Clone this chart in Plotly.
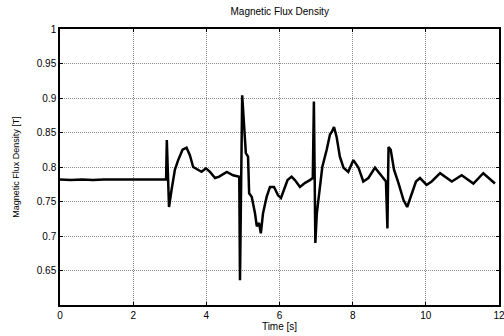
import plotly.graph_objects as go

time_s = [0.0, 0.3, 0.6, 0.9, 1.2, 1.5, 1.8, 2.1, 2.4, 2.7, 2.9, 2.92, 2.98, 3.05, 3.14, 3.23, 3.35, 3.46,
          3.55, 3.64, 3.77, 3.87, 3.99, 4.10, 4.24, 4.35, 4.56, 4.73, 4.90, 4.92, 4.98, 5.06, 5.08,
          5.14, 5.17, 5.24, 5.33, 5.38, 5.44, 5.49, 5.55, 5.65, 5.74, 5.85, 5.96, 6.04, 6.13, 6.22,
          6.33, 6.42, 6.56, 6.70, 6.83, 6.91, 6.94, 6.97, 6.98, 7.02, 7.08, 7.17, 7.29, 7.38, 7.44,
          7.49, 7.56, 7.65, 7.75, 7.88, 8.02, 8.16, 8.29, 8.43, 8.61, 8.79, 8.91, 8.95, 8.98, 9.04,
          9.13, 9.25, 9.39, 9.49, 9.61, 9.73, 9.84, 10.02, 10.16, 10.39, 10.71, 10.98, 11.30, 11.57,
          11.89]
flux_T = [0.782, 0.781, 0.782, 0.781, 0.782, 0.782, 0.781, 0.782, 0.781, 0.782, 0.782, 0.839, 0.742, 0.767,
          0.796, 0.810, 0.825, 0.828, 0.817, 0.800, 0.796, 0.793, 0.798, 0.793, 0.784, 0.786, 0.793,
          0.788, 0.786, 0.636, 0.904, 0.829, 0.820, 0.815, 0.762, 0.757, 0.733, 0.714, 0.719, 0.704,
          0.733, 0.757, 0.771, 0.771, 0.759, 0.755, 0.767, 0.781, 0.786, 0.781, 0.771, 0.777, 0.781,
          0.784, 0.895, 0.748, 0.690, 0.733, 0.757, 0.800, 0.825, 0.847, 0.852, 0.858, 0.844, 0.815,
          0.799, 0.793, 0.810, 0.799, 0.779, 0.784, 0.799, 0.786, 0.779, 0.711, 0.829, 0.825, 0.796,
          0.777, 0.752, 0.742, 0.762, 0.779, 0.784, 0.774, 0.779, 0.791, 0.779, 0.788, 0.776, 0.791,
          0.776]

x_ticks = [0, 2, 4, 6, 8, 10, 12]
y_ticks = [0.65, 0.7, 0.75, 0.8, 0.85, 0.9, 0.95, 1]

fig = go.Figure()
fig.add_trace(go.Scatter(x=time_s, y=flux_T, mode="lines",
                         line=dict(color="black", width=2.5), showlegend=False))

font = dict(family="Liberation Sans, Arial, sans-serif", size=10, color="black")
axis_common = dict(showline=True, linecolor="black", linewidth=1.5, mirror="ticks",
                   ticks="inside", ticklen=3, tickcolor="black",
                   showgrid=True, gridcolor="#8a8a8a", gridwidth=1, griddash="1px,1px",
                   zeroline=False, tickfont=font, automargin=False,
                   ticklabeloverflow="allow")

fig.update_layout(
    width=504, height=336,
    margin=dict(l=60, r=5, t=29, b=31),
    paper_bgcolor="white", plot_bgcolor="white",
    font=font,
    title=dict(text="Magnetic Flux Density", x=0.555, xanchor="center", y=0.965, yanchor="middle",
               font=dict(family="Liberation Sans, Arial, sans-serif", size=10)),
    xaxis=dict(range=[0, 12], tickvals=x_ticks, ticktext=[str(v) for v in x_ticks],
               title=dict(text="Time [s]", standoff=2, font=font), **axis_common),
    yaxis=dict(range=[0.6, 1.0], tickvals=y_ticks, ticktext=[f"{v:g}" for v in y_ticks],
               title=dict(text="Magnetic Flux Density [T]", standoff=16,
                          font=dict(family="Liberation Sans, Arial, sans-serif", size=9)),
               **axis_common),
)

fig.write_html("out.html", config={"displayModeBar": False},
               post_script="document.body.style.margin='0px';document.body.style.padding='0px';")
